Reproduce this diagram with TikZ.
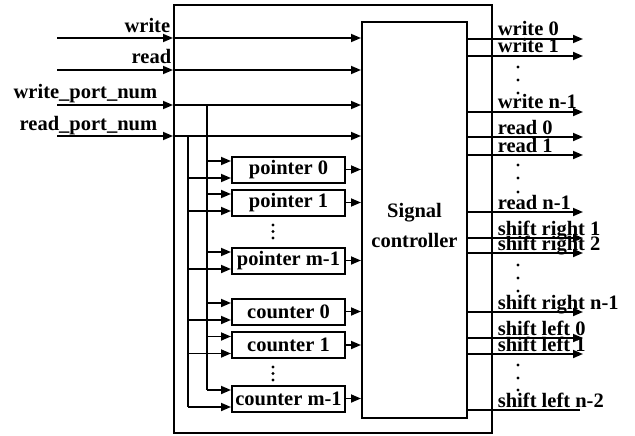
\documentclass[tikz,border=0pt]{standalone}
\usepackage{fontspec}
\setmainfont{Liberation Serif}
\usetikzlibrary{arrows.meta,calc}
\begin{document}
\begin{tikzpicture}[x=1pt,y=-1pt, line width=1.7pt,
  arr/.style={-{Triangle[length=10pt,width=8pt]}},
  txt/.style={font=\bfseries\fontsize{20.5}{21}\selectfont, inner sep=0pt},
  blk/.style={draw, line width=2pt, minimum width=113pt, minimum height=26pt, inner sep=0pt, txt},
  bigbox/.style={draw, line width=2pt, inner sep=0pt},
  dotm/.style={circle, fill, inner sep=0pt, minimum size=3.2pt},
  vdot/.style={circle, fill, inner sep=0pt, minimum size=3.4pt}]
\useasboundingbox (0,0) rectangle (635,436);

% outer box and controller
\node[bigbox, minimum width=318pt, minimum height=428pt] (outer) at (333,219) {};
\node[bigbox, minimum width=105pt, minimum height=396pt] (ctrl) at (414.5,220) {};
\node[txt, align=center] (ctxt) at (414.5,225) {Signal\\[9pt]controller};

% inputs
\foreach \n/\y/\ly/\lx/\t in {iw/38/33/171/write, ir/70/64/172/read, iwp/105/99/158/write\_port\_num, irp/136/130/158/read\_port\_num}{
  \coordinate (\n) at (57,\y);
  \node[txt, anchor=base east] (\n-lab) at (\lx,\ly) {\t};
  \draw[arr] (\n) -- (\n -| outer.west);
  \draw[arr] (\n -| outer.west) -- (\n -| ctrl.west);
}

% buses
\coordinate (wbus) at (207,105);
\coordinate (rbus) at (188,136);

% blocks
\node[blk] (p0) at (288.5,169.5) {pointer 0};
\node[blk] (p1) at (288.5,202.5) {pointer 1};
\node[blk] (pm) at (288.5,260.5) {pointer m-1};
\node[blk] (c0) at (288.5,311.5) {counter 0};
\node[blk] (c1) at (288.5,345) {counter 1};
\node[blk] (cm) at (288.5,398.5) {counter m-1};

\foreach \b in {p0,p1,pm,c0,c1,cm}{
  \coordinate (\b-u) at ([yshift=8.5pt]\b.west);
  \coordinate (\b-l) at ([yshift=-8.5pt]\b.west);
  \draw[arr] (\b-u -| wbus) -- (\b-u);
  \draw[arr] (\b-l -| rbus) -- (\b-l);
  \draw[arr] (\b.east) -- (\b.east -| ctrl.west);
}
\draw (wbus) -- (wbus |- cm-u);
\draw (rbus) -- (rbus |- cm-l);
\foreach \b in {p0,p1,pm,c0,c1}{
  \node[dotm] (\b-x) at (\b-l -| wbus) {};
}
\node[dotm] (rx) at (wbus |- rbus) {};

% vertical dots in block column
\foreach \y [count=\i] in {225,231.5,238}{ \node[vdot] (pd\i) at (273,\y) {}; }
\foreach \y [count=\i] in {367,373.5,380}{ \node[vdot] (cd\i) at (273,\y) {}; }

% outputs
\foreach \n/\y/\t in {o1/39/write 0, o2/56/write 1, o3/112/write n-1, o4/137/read 0, o5/155/read 1, o6/212/read n-1, o7/238/shift right 1, o8/253/shift right 2, o9/312/shift right n-1, o10/338/shift left 0, o11/354/shift left 1}{
  \coordinate (\n) at (583,\y);
  \node[txt, anchor=base west] (\n-lab) at (497,\y-3) {\t};
  \draw[arr] (\n -| ctrl.east) -- (\n);
}
\coordinate (o12) at (580,410);
\node[txt, anchor=base west] (o12-lab) at (497,407) {shift left n-2};
\draw (o12 -| ctrl.east) -- (o12);

\foreach \y [count=\i] in {67,80,93, 165,178,192, 265,278,291, 365,378,390}{
  \node[vdot] (od\i) at (518,\y) {};
}
\end{tikzpicture}
\end{document}
